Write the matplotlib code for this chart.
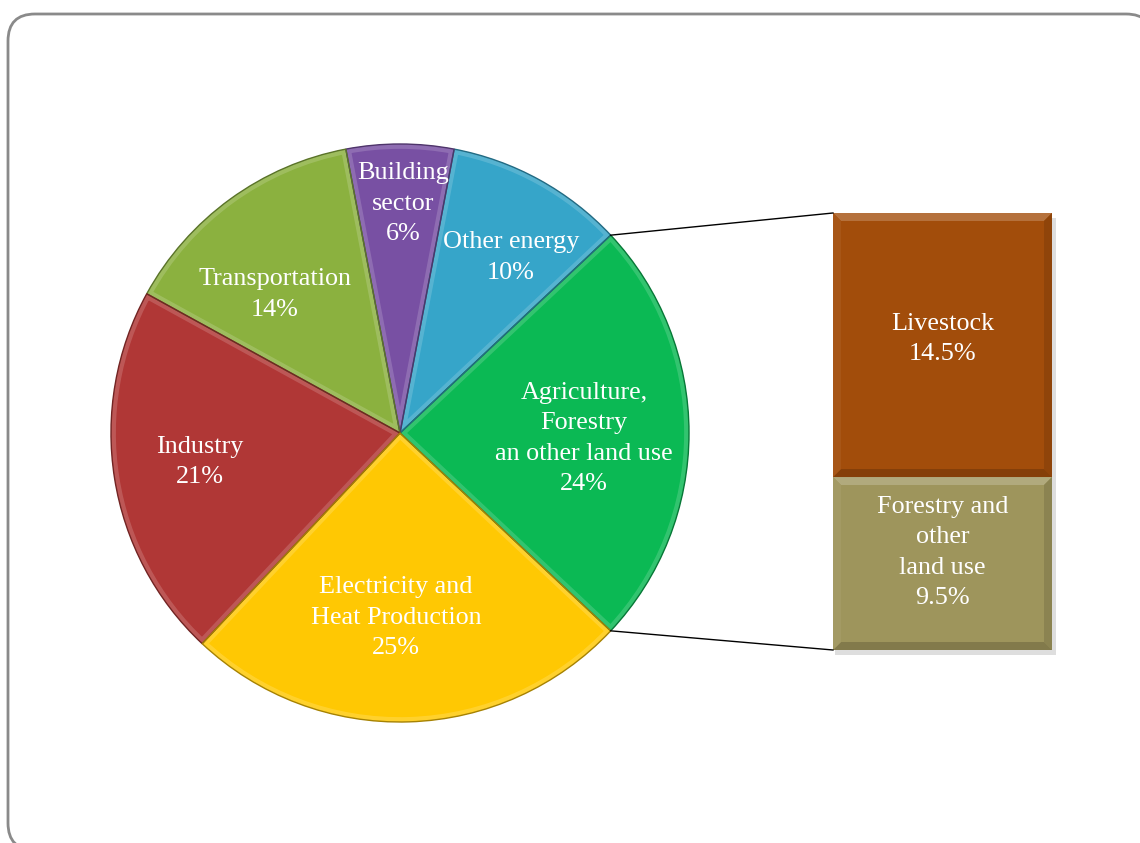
import numpy as np
import matplotlib
matplotlib.use("Agg")
import matplotlib.pyplot as plt
from matplotlib.patches import FancyBboxPatch, Rectangle, Polygon, PathPatch
from matplotlib.colors import to_rgb

# ---- data ----
sectors = ["Agriculture,\nForestry\nan other land use", "Other energy", "Building\nsector",
           "Transportation", "Industry", "Electricity and\nHeat Production"]
shares = [24, 10, 6, 14, 21, 25]
sector_colors = ["#0BB954", "#36A5C9", "#7850A3", "#8BB13F", "#B03736", "#FFC803"]

sub_labels = ["Forestry and\nother\nland use", "Livestock"]
sub_shares = [9.5, 14.5]
sub_colors = ["#9E955C", "#A24D0B"]

FONT = ["Liberation Serif", "DejaVu Serif"]
FS = 18.8
LS = 1.5
W, H = 1140, 843


def shade(c, f):
    r, g, b = to_rgb(c)
    if f >= 0:
        return (r + (1 - r) * f, g + (1 - g) * f, b + (1 - b) * f)
    return (r * (1 + f), g * (1 + f), b * (1 + f))


fig = plt.figure(figsize=(W / 100, H / 100), dpi=100)
ax = fig.add_axes([0, 0, 1, 1])

# rounded frame
frame = FancyBboxPatch((8, -7), 1145, 843 - 14 + 7, boxstyle="round,pad=0,rounding_size=27",
                       facecolor="white", edgecolor="#8a8a8a", lw=2, zorder=0)
ax.add_patch(frame)

cx, cy, R = 400, 843 - 433, 289
start = -shares[0] / 100 * 360 / 2
wedges, _ = ax.pie(shares, colors=sector_colors, startangle=start, counterclock=True,
                   center=(cx, cy), radius=R, frame=True,
                   wedgeprops=dict(edgecolor="none", lw=0))
# bevel-like rims clipped inside each wedge
for w, c in zip(wedges, sector_colors):
    w.set_zorder(1)
    p = w.get_path()
    rim = PathPatch(p, facecolor="none", edgecolor=shade(c, 0.3), lw=7, alpha=0.55, zorder=1.5)
    ax.add_patch(rim)
    rim.set_clip_path(w)
    edge = PathPatch(p, facecolor="none", edgecolor=shade(c, -0.35), lw=1.0, zorder=1.6)
    ax.add_patch(edge)

label_r = [0.637, 0.724, 0.80, 0.65, 0.70, 0.632]
label_da = [-1.1, -3.2, -0.7, 5.7, -1.3, -3.1]
for w, name, v, rr, da in zip(wedges, sectors, shares, label_r, label_da):
    mid = np.deg2rad((w.theta1 + w.theta2) / 2 + da)
    x = cx + rr * R * np.cos(mid)
    y = cy + rr * R * np.sin(mid) - 2
    ax.text(x, y, f"{name}\n{v}%", ha="center", va="center", color="white",
            fontsize=FS, family=FONT, linespacing=LS, zorder=5)

# stacked bar
bx0, bx1 = 833, 1052
by0, by1 = 843 - 650, 843 - 213
scale = (by1 - by0) / sum(sub_shares)
bottom = by0
ax.add_patch(Rectangle((bx0 + 2, by0 - 5), bx1 - bx0 + 2, by1 - by0, facecolor="#000000",
                       alpha=0.13, lw=0, zorder=1))
text_dy = [11, 6]
bev = 8
for lab, v, c, dy in zip(sub_labels, sub_shares, sub_colors, text_dy):
    hgt = v * scale
    ax.bar((bx0 + bx1) / 2, hgt, width=bx1 - bx0, bottom=bottom, color=c,
           edgecolor="none", lw=0, zorder=2)
    top = bottom + hgt
    ax.add_patch(Polygon([(bx0, top), (bx1, top), (bx1 - bev, top - bev), (bx0 + bev, top - bev)],
                         facecolor=shade(c, 0.2), lw=0, zorder=2.1))
    ax.add_patch(Polygon([(bx1, top), (bx1, bottom), (bx1 - bev, bottom + bev), (bx1 - bev, top - bev)],
                         facecolor=shade(c, -0.12), lw=0, zorder=2.1))
    ax.add_patch(Polygon([(bx0, bottom), (bx1, bottom), (bx1 - bev, bottom + bev), (bx0 + bev, bottom + bev)],
                         facecolor=shade(c, -0.18), lw=0, zorder=2.1))
    ax.add_patch(Polygon([(bx0, top), (bx0, bottom), (bx0 + bev, bottom + bev), (bx0 + bev, top - bev)],
                         facecolor=shade(c, 0.05), lw=0, zorder=2.1))
    ax.text((bx0 + bx1) / 2, bottom + hgt / 2 + dy,
            f"{lab}\n{v}%", ha="center", va="center", color="white",
            fontsize=FS, family=FONT, linespacing=LS, zorder=5)
    bottom = top

# connector lines
t1 = np.deg2rad(wedges[0].theta2)
t0 = np.deg2rad(wedges[0].theta1)
ax.plot([cx + R * np.cos(t1), bx0], [cy + R * np.sin(t1), by1], color="black", lw=1, zorder=3)
ax.plot([cx + R * np.cos(t0), bx0], [cy + R * np.sin(t0), by0], color="black", lw=1, zorder=3)

ax.set_xlim(0, W)
ax.set_ylim(0, H)
ax.set_aspect("auto")
ax.axis("off")
fig.savefig("out.png", dpi=100)
